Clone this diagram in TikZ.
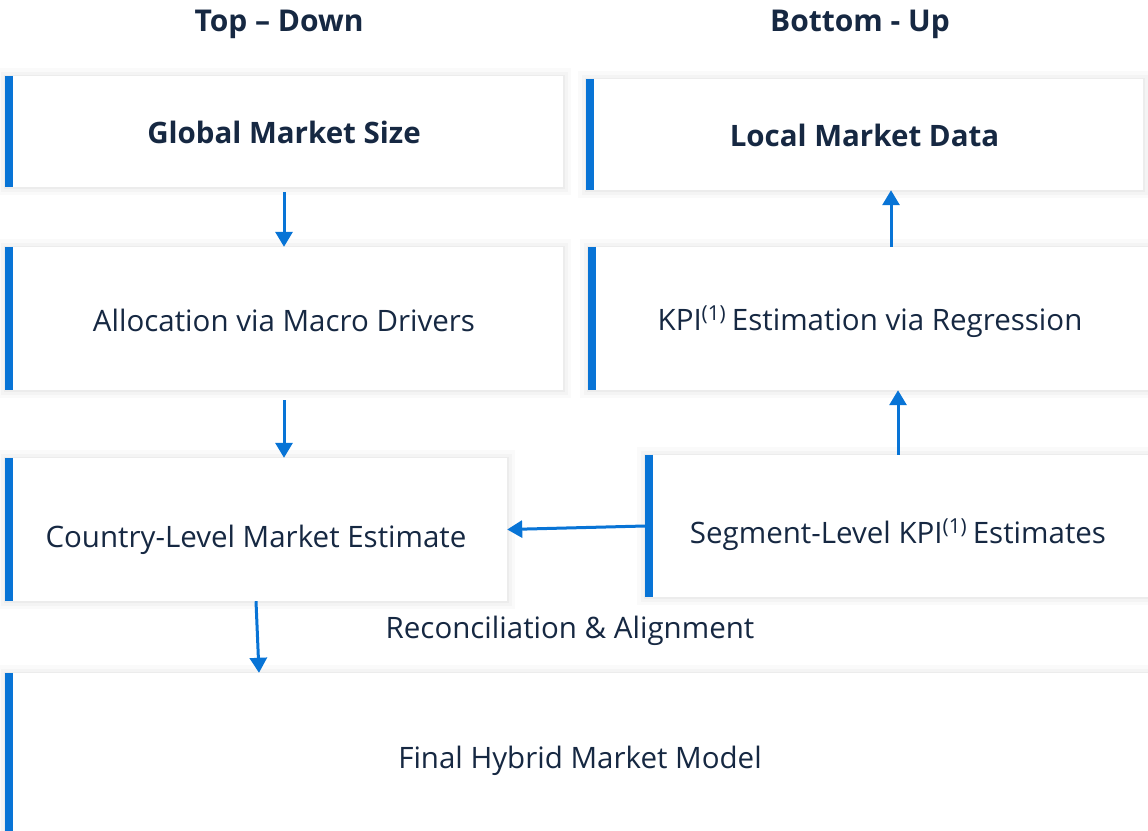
\documentclass[tikz,border=0pt]{standalone}
\usepackage{fontspec}
\setmainfont{Open Sans}
\usetikzlibrary{arrows.meta,positioning}
\definecolor{barblue}{RGB}{8,116,214}
\definecolor{inkblue}{RGB}{22,40,66}

\tikzset{
  stage/.style={fill=white,text=inkblue,inner sep=0pt,
    text height=#1,text depth=0pt,
    font=\fontsize{29.5}{35}\selectfont,
    preaction={draw=black,draw opacity=.02,line width=16pt},
    preaction={draw=black,draw opacity=.025,line width=9pt},
    preaction={draw=black,draw opacity=.03,line width=3pt}},
  stage/.default=24pt,
  title/.style={text=inkblue,anchor=base,font=\fontsize{30}{36}\selectfont\bfseries},
  flow/.style={barblue,line width=3pt,-{Triangle[length=15pt,width=17pt]}},
  leftbar/.style={barblue,line width=8pt}
}

\begin{document}
\begin{tikzpicture}[x=1pt,y=-1pt]
   \useasboundingbox[fill=white] (0,0) rectangle (1148,830);
   % headings
   \node[title] (td) at (279,31) {Top -- Down};
   \node[title] (bu) at (860,31) {Bottom - Up};
   % boxes
   \node[stage=24pt,minimum width=558pt,minimum height=111pt] (gms) at (284,131.5) {\bfseries Global Market Size};
   \node[stage=24pt,minimum width=557pt,minimum height=111pt] (lmd) at (864.5,134.5) {\bfseries Local Market Data};
   \node[stage=25pt,minimum width=558pt,minimum height=143pt] (alloc) at (284,318.5) {Allocation via Macro Drivers};
   \node[stage=23pt,minimum width=564pt,minimum height=143pt] (kpi) at (870,318.5) {KPI\textsuperscript{(1)}\kern-2pt{} Estimation via Regression};
   \node[stage=36pt,minimum width=502pt,minimum height=143pt] (country) at (256,529.5) {Country-Level Market Estimate};
   \node[stage=34pt,minimum width=506pt,minimum height=142pt] (segment) at (898,526) {Segment-Level KPI\textsuperscript{(1)}\kern-2pt{} Estimates};
   \node[stage=22pt,minimum width=1150pt,minimum height=168pt] (final) at (580,757) {Final Hybrid Market Model};
   \node[text=inkblue,anchor=base,font=\fontsize{29.5}{35}\selectfont] (rec) at (570,638) {Reconciliation \& Alignment};
   \foreach \n in {gms,lmd,alloc,kpi,country,segment,final}
     \draw[leftbar] ([xshift=4pt]\n.north west) -- ([xshift=4pt]\n.south west);
   % connectors
   \draw[flow,shorten <=5pt] (gms.south) -- (alloc.north);
   \draw[flow,shorten <=10pt] (alloc.south) -- (alloc.south |- country.north);
   \draw[flow] (segment.north) -- (segment.north |- kpi.south);
   \draw[flow] ([xshift=21pt]kpi.north) -- ([xshift=21pt]kpi.north |- lmd.south);
   \draw[flow] (segment.west) -- (country.east);
   \draw[flow] (country.south) -- ([xshift=3pt]country.south |- final.north);
\end{tikzpicture}
\end{document}
